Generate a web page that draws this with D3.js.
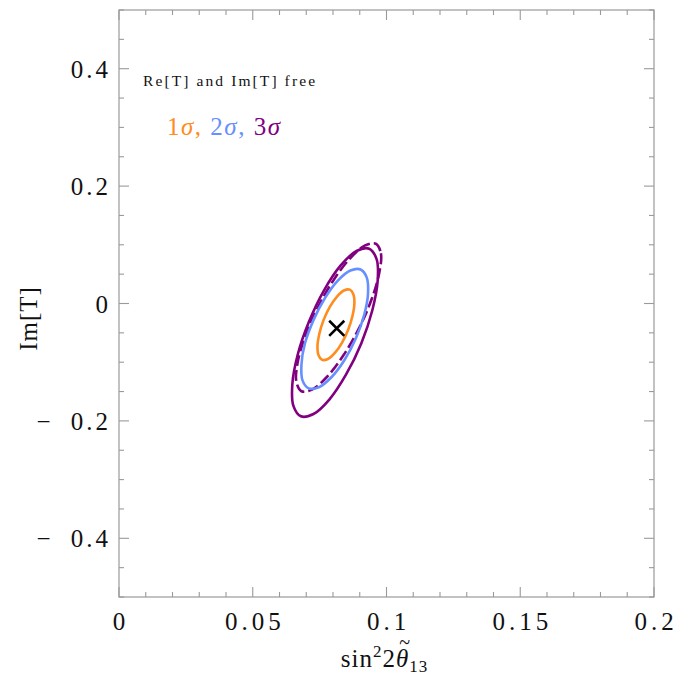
<!DOCTYPE html>
<html>
<head>
<meta charset="utf-8">
<script src="https://cdn.jsdelivr.net/npm/d3@7"></script>
<style>
body { margin: 0; background: #fff; }
text { font-family: "Liberation Serif", "DejaVu Serif", serif; }
</style>
</head>
<body>
<div id="chart"></div>
<script>
// contour points: [sin^2 2theta13, Im[T]]
var sigma1 = [[0.0863,0.0236],[0.0876,0.0159],[0.0880,0.0003],[0.0873,-0.0209],[0.0857,-0.0444],[0.0834,-0.0666],
  [0.0807,-0.0842],[0.0781,-0.0945],[0.0759,-0.0959],[0.0746,-0.0882],[0.0742,-0.0725],[0.0749,-0.0514],
  [0.0765,-0.0279],[0.0788,-0.0056],[0.0815,0.0119],[0.0841,0.0222]];
var sigma2 = [[0.0903,0.0580],[0.0926,0.0445],[0.0931,0.0173],[0.0917,-0.0187],[0.0886,-0.0586],[0.0843,-0.0962],
  [0.0794,-0.1256],[0.0747,-0.1427],[0.0709,-0.1445],[0.0686,-0.1310],[0.0682,-0.1042],[0.0695,-0.0682],
  [0.0727,-0.0283],[0.0770,0.0093],[0.0818,0.0390],[0.0865,0.0562]];
var sigma3 = [[0.0935,0.0934],[0.0963,0.0756],[0.0967,0.0387],[0.0947,-0.0115],[0.0906,-0.0676],[0.0849,-0.1209],
  [0.0787,-0.1632],[0.0727,-0.1883],[0.0680,-0.1922],[0.0652,-0.1744],[0.0648,-0.1375],[0.0668,-0.0873],
  [0.0710,-0.0312],[0.0766,0.0221],[0.0828,0.0644],[0.0888,0.0895]];
var sigma3Dashed = [[0.0960,0.1018],[0.0979,0.0855],[0.0973,0.0525],[0.0945,0.0080],[0.0898,-0.0415],[0.0839,-0.0883],
  [0.0777,-0.1252],[0.0722,-0.1467],[0.0682,-0.1495],[0.0663,-0.1332],[0.0668,-0.1002],[0.0696,-0.0557],
  [0.0744,-0.0062],[0.0803,0.0406],[0.0865,0.0775],[0.0920,0.0990]];
var bestFit = [0.0814, -0.0422];

var xMajor = [0, 0.05, 0.1, 0.15, 0.2];
var xLabels = ["0", "0.05", "0.1", "0.15", "0.2"];
var xMinor = d3.range(0, 0.2001, 0.01);
var yMajor = [-0.4, -0.2, 0, 0.2, 0.4];
var yLabels = ["\u2212\u2009 0.4", "\u2212\u2009 0.2", "0", "0.2", "0.4"];
var yMinor = d3.range(-0.5, 0.5001, 0.05);

var contourColors = ["#ff8c1e", "#6690ff", "#800080"];
var legendParts = ["1", "2", "3"];

var width = 679, height = 676;
var margin = {left: 119, right: 25, top: 10, bottom: 79};

var svg = d3.select("#chart").append("svg")
  .attr("width", width)
  .attr("height", height);

var x = d3.scaleLinear().domain([0, 0.2]).range([margin.left, width - margin.right]);
var y = d3.scaleLinear().domain([-0.5, 0.5]).range([height - margin.bottom, margin.top]);

var frameColor = "#9a9a9a";

// frame
svg.append("rect")
  .attr("x", x(0)).attr("y", y(0.5))
  .attr("width", x(0.2) - x(0)).attr("height", y(-0.5) - y(0.5))
  .attr("fill", "none").attr("stroke", frameColor).attr("stroke-width", 1.2);

// ticks on all four sides, pointing inward
function isMajor(v, list) {
  return list.some(function (m) { return Math.abs(m - v) < 1e-6; });
}
var ticks = svg.append("g").attr("stroke", frameColor).attr("stroke-width", 1.1);
xMinor.forEach(function (v) {
  var len = isMajor(v, xMajor) ? 10 : 5;
  ticks.append("line").attr("x1", x(v)).attr("x2", x(v)).attr("y1", y(-0.5)).attr("y2", y(-0.5) - len);
  ticks.append("line").attr("x1", x(v)).attr("x2", x(v)).attr("y1", y(0.5)).attr("y2", y(0.5) + len);
});
yMinor.forEach(function (v) {
  var len = isMajor(v, yMajor) ? 10 : 5;
  ticks.append("line").attr("x1", x(0)).attr("x2", x(0) + len).attr("y1", y(v)).attr("y2", y(v));
  ticks.append("line").attr("x1", x(0.2)).attr("x2", x(0.2) - len).attr("y1", y(v)).attr("y2", y(v));
});

// tick labels
svg.selectAll(".xl").data(xMajor).enter().append("text")
  .attr("x", function (d) { return x(d) + 2; })
  .attr("y", y(-0.5) + 33)
  .attr("text-anchor", "middle")
  .attr("font-size", 25)
  .attr("letter-spacing", 4)
  .attr("fill", "#111")
  .text(function (d, i) { return xLabels[i]; });

svg.selectAll(".yl").data(yMajor).enter().append("text")
  .attr("x", x(0) - 8)
  .attr("y", function (d) { return y(d) + 9; })
  .attr("text-anchor", "end")
  .attr("font-size", 25)
  .attr("letter-spacing", 3)
  .attr("fill", "#111")
  .text(function (d, i) { return yLabels[i]; });

// axis titles
svg.append("text")
  .attr("transform", "translate(37," + (y(0) + 15) + ") rotate(-90)")
  .attr("text-anchor", "middle")
  .attr("font-size", 25)
  .attr("letter-spacing", 1)
  .attr("fill", "#111")
  .text("Im[T]");

var xt = svg.append("text")
  .attr("x", x(0.1) - 2)
  .attr("y", 667)
  .attr("text-anchor", "middle")
  .attr("font-size", 25)
  .attr("letter-spacing", 1)
  .attr("fill", "#111");
xt.append("tspan").text("sin");
xt.append("tspan").attr("dy", -10).attr("font-size", 17).text("2");
xt.append("tspan").attr("dy", 10).text("2");
xt.append("tspan").attr("font-style", "italic").text("\u03b8");
xt.append("tspan").attr("dy", 5).attr("font-size", 17).text("13");

// tilde over theta (char index 5)
var thetaStart = xt.node().getStartPositionOfChar(5);
var thetaEnd = xt.node().getEndPositionOfChar(5);
svg.append("text")
  .attr("x", (thetaStart.x + thetaEnd.x) / 2 + 2)
  .attr("y", 649)
  .attr("text-anchor", "middle")
  .attr("font-size", 20)
  .attr("fill", "#111")
  .text("~");

// contours
var line = d3.line()
  .x(function (d) { return x(d[0]); })
  .y(function (d) { return y(d[1]); })
  .curve(d3.curveCatmullRomClosed);

svg.append("path").datum(sigma3)
  .attr("d", line).attr("fill", "none").attr("stroke", contourColors[2]).attr("stroke-width", 2.6);
svg.append("path").datum(sigma3Dashed)
  .attr("d", line).attr("fill", "none").attr("stroke", contourColors[2]).attr("stroke-width", 2.6)
  .attr("stroke-dasharray", "11,4");
svg.append("path").datum(sigma2)
  .attr("d", line).attr("fill", "none").attr("stroke", contourColors[1]).attr("stroke-width", 2.6);
svg.append("path").datum(sigma1)
  .attr("d", line).attr("fill", "none").attr("stroke", contourColors[0]).attr("stroke-width", 2.6);

// best fit point
svg.append("path")
  .attr("transform", "translate(" + x(bestFit[0]) + "," + y(bestFit[1]) + ")")
  .attr("d", d3.symbol(d3.symbolX, 150)())
  .attr("fill", "none").attr("stroke", "#000").attr("stroke-width", 2.6);

// legend
svg.append("text")
  .attr("x", 143).attr("y", 86)
  .attr("font-size", 15.5)
  .attr("letter-spacing", 2.1)
  .attr("fill", "#111")
  .text("Re[T] and Im[T] free");

var lg = svg.append("text")
  .attr("x", 167).attr("y", 135)
  .attr("font-size", 25)
  .attr("letter-spacing", 1.5);
legendParts.forEach(function (p, i) {
  lg.append("tspan").attr("fill", contourColors[i]).text(p);
  lg.append("tspan").attr("fill", contourColors[i]).attr("font-style", "italic").text("\u03c3");
  if (i < 2) lg.append("tspan").attr("fill", contourColors[i]).text(", ");
});
</script>
</body>
</html>
